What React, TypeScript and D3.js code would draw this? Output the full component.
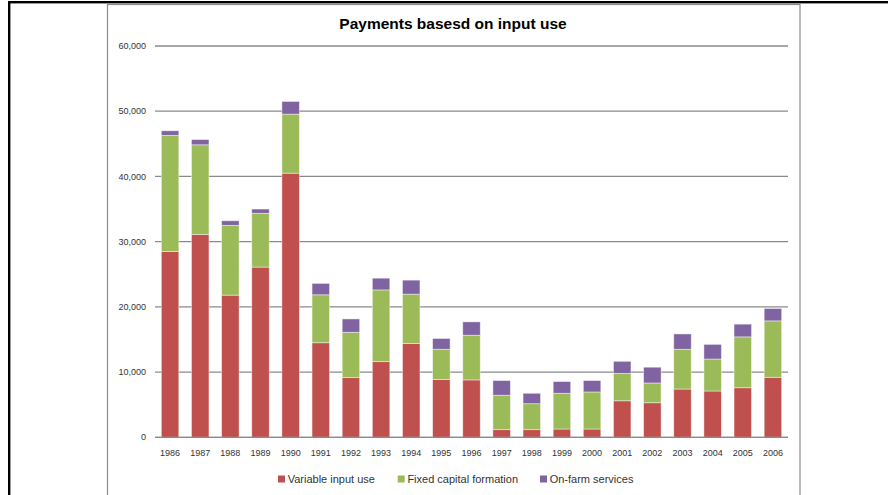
import React from "react";
import * as d3 from "d3";

const years = ["1986","1987","1988","1989","1990","1991","1992","1993","1994","1995","1996","1997","1998","1999","2000","2001","2002","2003","2004","2005","2006"];
const variableInput = [28500,31100,21800,26100,40500,14500,9150,11600,14400,8850,8800,1170,1170,1270,1270,5600,5300,7400,7100,7600,9200];
const fixedCapital = [17800,13750,10700,8250,9050,7350,6950,11000,7550,4650,6850,5280,3980,5480,5680,4200,3030,6100,4900,7800,8650];
const onFarm = [700,800,700,650,1950,1750,2050,1800,2150,1650,2050,2250,1600,1800,1750,1850,2420,2350,2250,1950,1900];
const seriesNames = ["Variable input use","Fixed capital formation","On-farm services"];
const seriesColors = ["#C0504D","#9BBB59","#8064A2"];
const yTicks = [0,10000,20000,30000,40000,50000,60000];
const title = "Payments basesd on input use";

export default function App() {
  const W = 888, H = 495;
  const x = d3.scaleBand<string>().domain(years).range([155, 788]).paddingInner(0.42).paddingOuter(0.21);
  const y = d3.scaleLinear().domain([0, 60000]).range([437.3, 46]);
  const rows = years.map((yr, i) => ({ year: yr, a: variableInput[i], b: fixedCapital[i], c: onFarm[i] }));
  const stack = d3.stack<any>().keys(["a","b","c"]);
  const layers = stack(rows);
  const fmt = d3.format(",");
  const font = "'Liberation Sans', Arial, sans-serif";
  const legendX = [278, 397.7, 540];
  return (
    <svg width={W} height={H} style={{ position: "absolute", left: 0, top: 0, background: "#fff" }} fontFamily={font}>
      <rect x={0} y={0} width={W} height={H} fill="#fff" />
      {/* outer black page border */}
      <rect x={8} y={1} width={W - 8} height={2.4} fill="#000" />
      <rect x={8} y={1} width={2.4} height={H} fill="#000" />
      {/* chart frame */}
      <rect x={107.5} y={4.5} width={692.5} height={H} fill="#fff" stroke="#8c8c8c" strokeWidth={1.2} />
      <text x={453} y={29} textAnchor="middle" fontSize={15.5} fontWeight="bold" fill="#000">{title}</text>
      {yTicks.map(t => (
        <g key={t}>
          <line x1={155} x2={788} y1={y(t)} y2={y(t)} stroke="#8a8a8a" strokeWidth={1.3} />
          <text x={146} y={y(t)} dy="0.35em" textAnchor="end" fontSize={9} fill="#333">{fmt(t)}</text>
        </g>
      ))}
      {layers.map((layer, li) => (
        <g key={li} fill={seriesColors[li]}>
          {layer.map((d, i) => (
            <rect key={i} x={x(years[i])} width={x.bandwidth()} y={y(d[1])} height={y(d[0]) - y(d[1])}
              stroke="rgba(255,255,255,0.55)" strokeWidth={0.8} />
          ))}
        </g>
      ))}
      <line x1={155} x2={788} y1={y(0)} y2={y(0)} stroke="#8a8a8a" strokeWidth={1.3} />
      {years.map(yr => (
        <text key={yr} x={(x(yr) as number) + x.bandwidth() / 2} y={456} textAnchor="middle" fontSize={9} fill="#333">{yr}</text>
      ))}
      {seriesNames.map((n, i) => (
        <g key={n}>
          <rect x={legendX[i]} y={475.5} width={7} height={7} fill={seriesColors[i]} />
          <text x={legendX[i] + 9.7} y={483} fontSize={11} fill="#333">{n}</text>
        </g>
      ))}
    </svg>
  );
}
